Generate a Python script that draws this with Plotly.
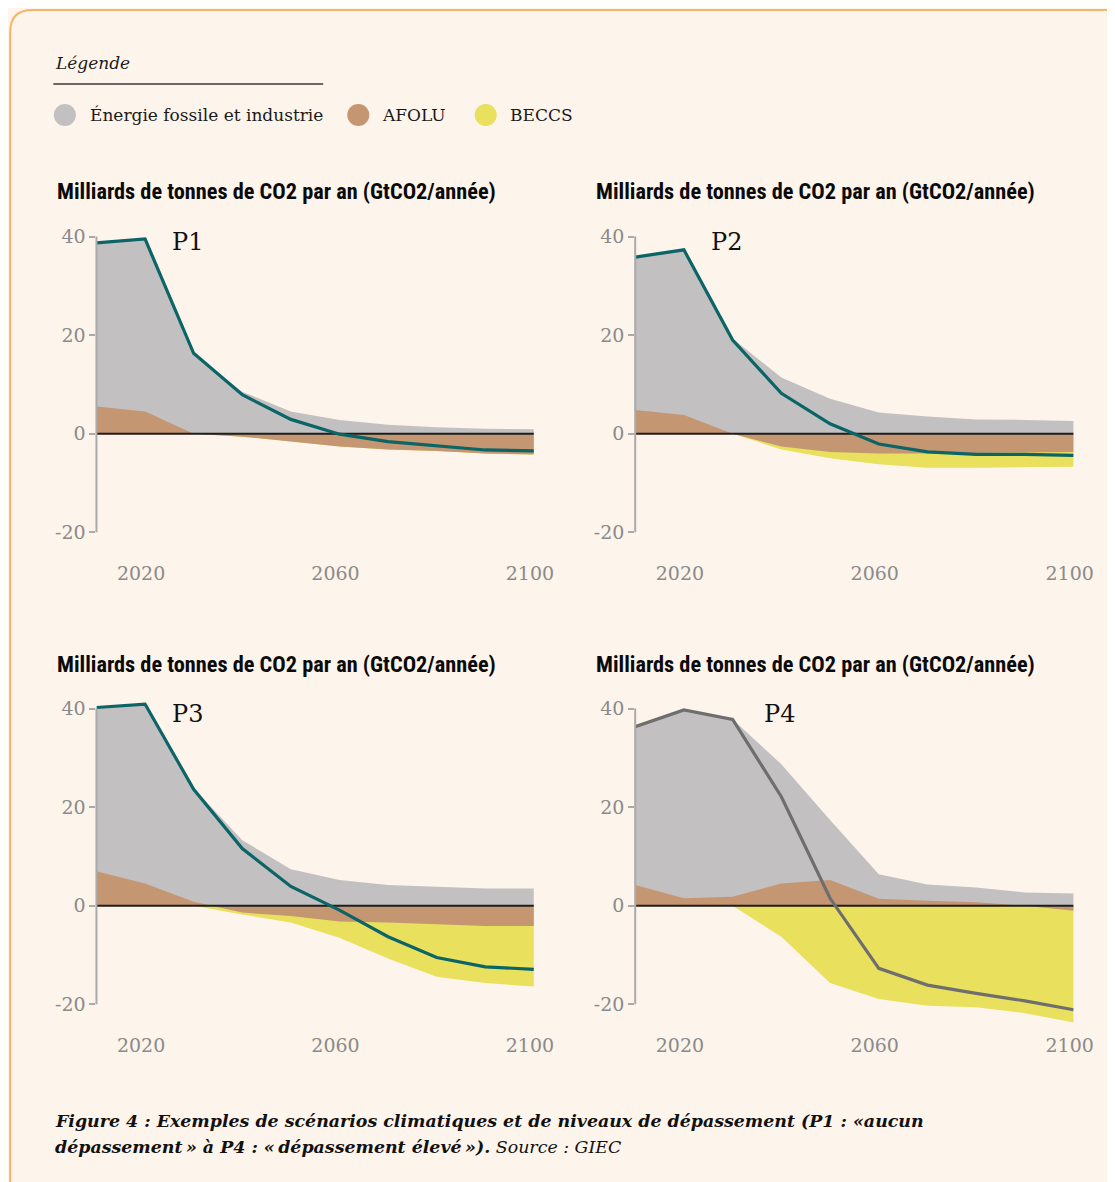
import plotly.graph_objects as go
from plotly.subplots import make_subplots

# la page ajoute une marge de 8 px ; la capture est un peu comprimée en largeur
OFF = 8
SX = 0.979
W, H = 1123, 1174

years = [2010, 2020, 2030, 2040, 2050, 2060, 2070, 2080, 2090, 2100]

# GtCO2/an par composante
p1_fossil = [33.2, 35.0, 16.3, 8.5, 4.5, 2.8, 1.8, 1.3, 1.0, 0.9]
p1_afolu = [5.5, 4.5, 0.0, -0.6, -1.6, -2.6, -3.2, -3.5, -4.0, -4.2]
p1_beccs = [0, 0, 0, 0, 0, 0, 0, 0, 0, 0]
p1_net = [38.7, 39.5, 16.3, 7.9, 2.9, -0.1, -1.6, -2.5, -3.3, -3.5]

p2_fossil = [31.0, 33.5, 19.3, 11.4, 7.1, 4.3, 3.5, 2.9, 2.8, 2.6]
p2_afolu = [4.8, 3.8, 0.0, -2.6, -3.7, -4.0, -4.0, -3.9, -3.7, -3.7]
p2_beccs = [0, 0, 0, -0.6, -1.3, -2.2, -2.9, -3.0, -3.1, -3.0]
p2_net = [35.8, 37.3, 19.0, 8.2, 2.0, -2.1, -3.7, -4.2, -4.2, -4.4]

p3_fossil = [33.2, 36.4, 23.0, 13.3, 7.4, 5.2, 4.2, 3.9, 3.5, 3.5]
p3_afolu = [7.0, 4.5, 0.8, -1.4, -2.1, -3.2, -3.4, -3.7, -4.1, -4.1]
p3_beccs = [0, 0, 0, -0.4, -1.3, -3.3, -7.3, -10.7, -11.6, -12.3]
p3_net = [40.2, 40.9, 23.6, 11.6, 3.9, -0.9, -6.3, -10.5, -12.4, -12.9]

p4_fossil = [32.1, 38.2, 36.0, 24.2, 12.2, 5.0, 3.3, 3.0, 2.7, 2.5]
p4_afolu = [4.2, 1.5, 1.8, 4.5, 5.2, 1.4, 1.0, 0.7, 0.0, -1.0]
p4_beccs = [0, 0, 0, -6.3, -15.7, -18.9, -20.3, -20.6, -21.8, -22.7]
p4_net = [36.3, 39.7, 37.8, 22.1, 1.5, -12.7, -16.1, -17.8, -19.3, -21.1]

scenarios = ["P1", "P2", "P3", "P4"]
y_ticks = [-20, 0, 20, 40]
y_ticktext = ["-20", "0", "20", "40"]
x_ticks = [2020, 2060, 2100]
legend_labels = ["Énergie fossile et industrie", "AFOLU", "BECCS"]
title_text = "Milliards de tonnes de CO2 par an (GtCO2/année)"

BG = "#FDF4EB"
GRAY = "#C2C0C1"
BROWN = "#C49672"
YELLOW = "#E9E05D"
TEAL = "#0B6466"
DARKGRAY = "#6E6E6E"
SERIF = "DejaVu Serif, Georgia, serif"
NARROW = "Roboto Condensed, Liberation Sans Narrow, Arial Narrow, Liberation Sans, sans-serif"


def px(x):
    return (x / SX - OFF) / W


def py(y):
    return 1 - (y - OFF) / H


panels = [
    (p1_fossil, p1_afolu, p1_beccs, p1_net, TEAL),
    (p2_fossil, p2_afolu, p2_beccs, p2_net, TEAL),
    (p3_fossil, p3_afolu, p3_beccs, p3_net, TEAL),
    (p4_fossil, p4_afolu, p4_beccs, p4_net, DARKGRAY),
]

fig = make_subplots(rows=2, cols=2)

for i, (fossil, afolu, beccs, net, line_color) in enumerate(panels):
    row, col = i // 2 + 1, i % 2 + 1
    top = [f + max(a, 0) for f, a in zip(fossil, afolu)]
    bottom = [min(a, 0) + b for a, b in zip(afolu, beccs)]
    fig.add_trace(go.Scatter(x=years, y=bottom, fill="tozeroy", fillcolor=YELLOW,
                             mode="lines", line=dict(width=0), hoverinfo="skip"), row=row, col=col)
    fig.add_trace(go.Scatter(x=years, y=top, fill="tozeroy", fillcolor=GRAY,
                             mode="lines", line=dict(width=0), hoverinfo="skip"), row=row, col=col)
    fig.add_trace(go.Scatter(x=years, y=afolu, fill="tozeroy", fillcolor=BROWN,
                             mode="lines", line=dict(width=0), hoverinfo="skip"), row=row, col=col)
    fig.add_trace(go.Scatter(x=[years[0], years[-1]], y=[0, 0], mode="lines",
                             line=dict(color="#1E1E1E", width=2), hoverinfo="skip"), row=row, col=col)
    fig.add_trace(go.Scatter(x=years, y=net, mode="lines",
                             line=dict(color=line_color, width=3.2)), row=row, col=col)

# placement des panneaux (pixels de la capture de référence)
x_domains = [(96, 532), (633, 1070)]
y_zero = [433.7, 905.7]
unit = 4.93
y_range = [-25, 44]

for i in range(4):
    r, c = i // 2, i % 2
    top_px = y_zero[r] - y_range[1] * unit
    bot_px = y_zero[r] - y_range[0] * unit
    sfx = "" if i == 0 else str(i + 1)
    fig.layout["xaxis" + sfx].update(
        domain=[px(x_domains[c][0]), px(x_domains[c][1])],
        range=[years[0], years[-1]], tickvals=x_ticks, ticks="",
        ticklabelshift=-4, ticklabelstandoff=3,
        showgrid=False, zeroline=False, showline=False,
        tickfont=dict(family=SERIF, size=19, color="#8A8A8A"))
    fig.layout["yaxis" + sfx].update(
        domain=[py(bot_px), py(top_px)], range=y_range, tickvals=y_ticks, ticktext=y_ticktext,
        ticks="outside", ticklen=6, tickwidth=2, tickcolor="#AAAAAA",
        showgrid=False, zeroline=False, showline=False,
        tickfont=dict(family=SERIF, size=19, color="#8A8A8A"))
    xref = "x" + sfx
    yref = "y" + sfx
    fig.add_shape(type="line", xref=xref + " domain", yref=yref, x0=0, x1=0,
                  y0=y_ticks[0], y1=y_ticks[-1], line=dict(color="#AAAAAA", width=2), layer="above")
    fig.add_annotation(xref=xref, yref=yref, x=2025.2 if i < 3 else 2036.0, y=38.8,
                       text=scenarios[i], showarrow=False, xanchor="left", yanchor="middle",
                       font=dict(family=SERIF, size=24, color="#111111"))
    fig.add_annotation(xref="paper", yref="paper", x=px(55 if c == 0 else 592),
                       y=py(191 if r == 0 else 664), text=title_text, showarrow=False,
                       xanchor="left", yanchor="middle",
                       font=dict(family=NARROW, size=22.3, color="#0A0A0A", weight="bold"))

# cadre arrondi
r0 = 22
path = (f"M {px(10)},{py(1240)} L {px(10)},{py(10 + r0)} "
        f"Q {px(10)},{py(10)} {px(10 + r0)},{py(10)} L {px(1180)},{py(10)} "
        f"L {px(1180)},{py(1240)} Z")
fig.add_shape(type="path", xref="paper", yref="paper", path=path,
              fillcolor=BG, line=dict(color="#F7B468", width=2), layer="below")

# légende
fig.add_annotation(xref="paper", yref="paper", x=px(53), y=py(63), text="<i>Légende</i>",
                   showarrow=False, xanchor="left", yanchor="middle",
                   font=dict(family=SERIF, size=17, color="#1A1A1A"))
fig.add_shape(type="line", xref="paper", yref="paper", x0=px(53), x1=px(322), y0=py(84), y1=py(84),
              line=dict(color="#3A3A3A", width=1.5))
legend_items = [(64.5, 88, GRAY), (357, 379, BROWN), (484, 506, YELLOW)]
for label, (cx, tx, color) in zip(legend_labels, legend_items):
    fig.add_shape(type="circle", xref="paper", yref="paper", x0=px(cx - 11), x1=px(cx + 11),
                  y0=py(115 + 11), y1=py(115 - 11), fillcolor=color, line=dict(width=0))
    fig.add_annotation(xref="paper", yref="paper", x=px(tx), y=py(115), text=label,
                       showarrow=False, xanchor="left", yanchor="middle",
                       font=dict(family=SERIF, size=17, color="#1A1A1A"))

# légende de la figure
fig.add_annotation(xref="paper", yref="paper", x=px(53), y=py(1121),
                   text="<b><i>Figure 4 : Exemples de scénarios climatiques et de niveaux de dépassement (P1 : «aucun</i></b>",
                   showarrow=False, xanchor="left", yanchor="middle",
                   font=dict(family=SERIF, size=17.4, color="#111111"))
fig.add_annotation(xref="paper", yref="paper", x=px(53), y=py(1147),
                   text="<b><i>dépassement\u2009» à P4 : «\u2009dépassement élevé\u2009»).</i></b><i> Source : GIEC</i>",
                   showarrow=False, xanchor="left", yanchor="middle",
                   font=dict(family=SERIF, size=17.4, color="#111111"))

fig.update_layout(width=W, height=H, margin=dict(l=0, r=0, t=0, b=0),
                  paper_bgcolor=BG, plot_bgcolor="rgba(0,0,0,0)", showlegend=False)

fig.write_html("out.html")
